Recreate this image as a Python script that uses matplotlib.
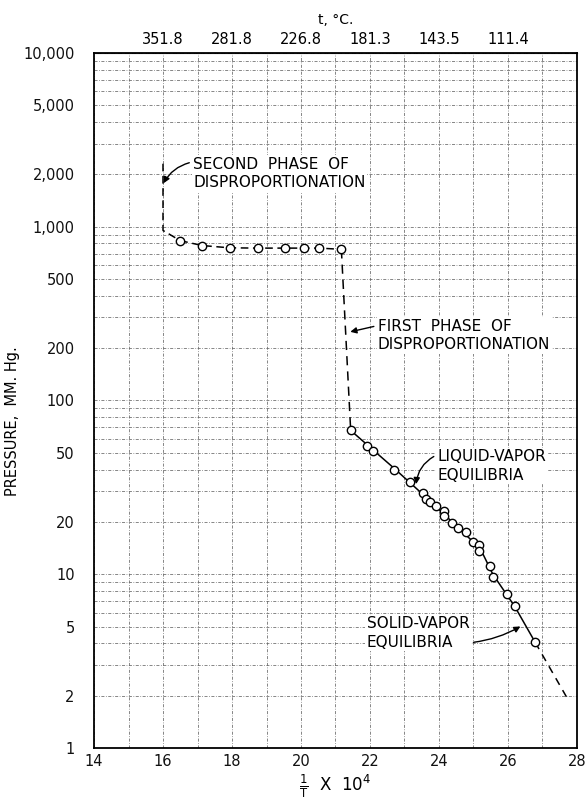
import matplotlib
matplotlib.use('Agg')
import matplotlib.pyplot as plt
from matplotlib.ticker import FixedLocator, NullFormatter

# readings: 1/T x 10^4 against pressure in mm Hg
plateau_x = [16.5, 17.14, 17.93, 18.75, 19.53, 20.09, 20.53, 21.17]
plateau_p = [830, 778, 755, 752, 752, 752, 752, 740]

second_x = [16.0, 16.0, 16.5]
second_p = [2300, 950, 830]

first_x = [21.17, 21.44]
first_p = [740, 67.2]

lv_x = [21.44, 21.92, 22.10, 22.71, 23.16, 23.53, 23.61, 23.74, 23.90, 24.15, 24.15,
        24.37, 24.54, 24.77, 24.98, 25.16, 25.16, 25.49, 25.56, 25.96, 26.20, 26.79]
lv_p = [67.2, 54.4, 50.9, 40.0, 34.0, 29.4, 27.2, 26.0, 24.8, 23.2, 21.5,
        19.8, 18.5, 17.5, 15.4, 14.7, 13.6, 11.1, 9.6, 7.7, 6.6, 4.05]

fit_x = [21.44, 22.71, 23.6, 24.5, 25.2, 25.56, 26.2, 26.79]
fit_p = [67.2, 40.5, 28.0, 19.0, 14.0, 10.0, 6.5, 4.05]
ext_x = [26.79, 27.72]
ext_p = [4.05, 1.93]

bottom_ticks = [14, 16, 18, 20, 22, 24, 26, 28]
left_ticks = [1, 2, 5, 10, 20, 50, 100, 200, 500, 1000, 2000, 5000, 10000]
left_labels = ['1', '2', '5', '10', '20', '50', '100', '200', '500',
               '1,000', '2,000', '5,000', '10,000']
top_ticks = [16, 18, 20, 22, 24, 26]
top_labels = ['351.8', '281.8', '226.8', '181.3', '143.5', '111.4']

plt.rcParams['font.family'] = 'DejaVu Sans'
plt.rcParams['font.size'] = 10

fig = plt.figure(figsize=(5.85, 8.0), dpi=100)
ax = fig.add_axes([0.1607, 0.065, 0.8256, 0.869])
ax.set_yscale('log')
ax.set_xlim(14, 28)
ax.set_ylim(1, 10000)

# graph paper
ax.xaxis.set_minor_locator(FixedLocator(range(15, 28)))
ax.yaxis.set_minor_locator(FixedLocator(
    [k * 10 ** n for n in range(4) for k in range(2, 10)]))
ax.yaxis.set_minor_formatter(NullFormatter())
ax.grid(True, which='both', color='#666666', lw=0.55, ls=(0, (4, 2, 1, 2)))
ax.set_axisbelow(True)

ax.set_xticks(bottom_ticks)
ax.set_xticklabels([str(t) for t in bottom_ticks])
ax.set_yticks(left_ticks)
ax.set_yticklabels(left_labels)
ax.tick_params(which='both', length=0)
ax.tick_params(axis='y', pad=14, labelsize=10.5, colors='#111111')
ax.tick_params(axis='x', pad=4, labelsize=10.5, colors='#111111')
for s in ax.spines.values():
    s.set_linewidth(1.3)
    s.set_color('black')

top = ax.secondary_xaxis('top')
top.set_xticks(top_ticks)
top.set_xticklabels(top_labels)
top.tick_params(length=0, pad=4, labelsize=10.5)
top.set_xlabel('t, °C.', fontsize=10, labelpad=6)

ax.set_ylabel('PRESSURE,  MM. Hg.', fontsize=10.5)
ax.yaxis.set_label_coords(-0.153, 0.47)
fig.text(0.573, 0.017, r'$\frac{1}{\mathrm{T}}$  X  10$^{4}$', fontsize=12,
         ha='center', va='center')

# curves
ax.plot(second_x, second_p, color='black', lw=1.1, ls=(0, (5, 3)))
ax.plot(plateau_x, plateau_p, color='black', lw=1.1, ls=(0, (5, 3)))
ax.plot(first_x, first_p, color='black', lw=1.1, ls=(0, (6, 4)))
ax.plot(fit_x, fit_p, color='black', lw=1.1)
ax.plot(ext_x, ext_p, color='black', lw=1.1, ls=(0, (5, 4)))
ax.plot(plateau_x, plateau_p, ls='none', marker='o', ms=6, mfc='white',
        mec='black', mew=1.0)
ax.plot(lv_x, lv_p, ls='none', marker='o', ms=6, mfc='white',
        mec='black', mew=1.0)

# annotations
box = dict(facecolor='white', edgecolor='none', pad=1)
arr = dict(arrowstyle='-|>', color='black', lw=1.0, mutation_scale=9)
fs = 11
ax.annotate('SECOND  PHASE  OF\nDISPROPORTIONATION', xy=(15.98, 1720),
            xytext=(16.88, 2020), ha='left', va='center', fontsize=fs,
            linespacing=1.3, bbox=box,
            arrowprops=dict(arr, connectionstyle='arc3,rad=0.25',
                            relpos=(0, 0.85)))
ax.annotate('FIRST  PHASE  OF\nDISPROPORTIONATION', xy=(21.35, 246),
            xytext=(22.23, 236), ha='left', va='center', fontsize=fs,
            linespacing=1.3, bbox=box,
            arrowprops=dict(arr, connectionstyle='arc3,rad=0.0',
                            relpos=(0, 0.8)))
ax.annotate('LIQUID-VAPOR\nEQUILIBRIA', xy=(23.33, 31.8),
            xytext=(23.96, 41.8), ha='left', va='center', fontsize=fs,
            linespacing=1.3, bbox=box,
            arrowprops=dict(arr, connectionstyle='arc3,rad=0.3',
                            relpos=(0, 0.85)))
ax.annotate('SOLID-VAPOR\nEQUILIBRIA', xy=(26.43, 5.1),
            xytext=(21.9, 4.58), ha='left', va='center', fontsize=fs,
            linespacing=1.3, bbox=box,
            arrowprops=dict(arr, connectionstyle='arc3,rad=0.15',
                            relpos=(0.82, 0.2)))

fig.savefig('out.png', dpi=100)
